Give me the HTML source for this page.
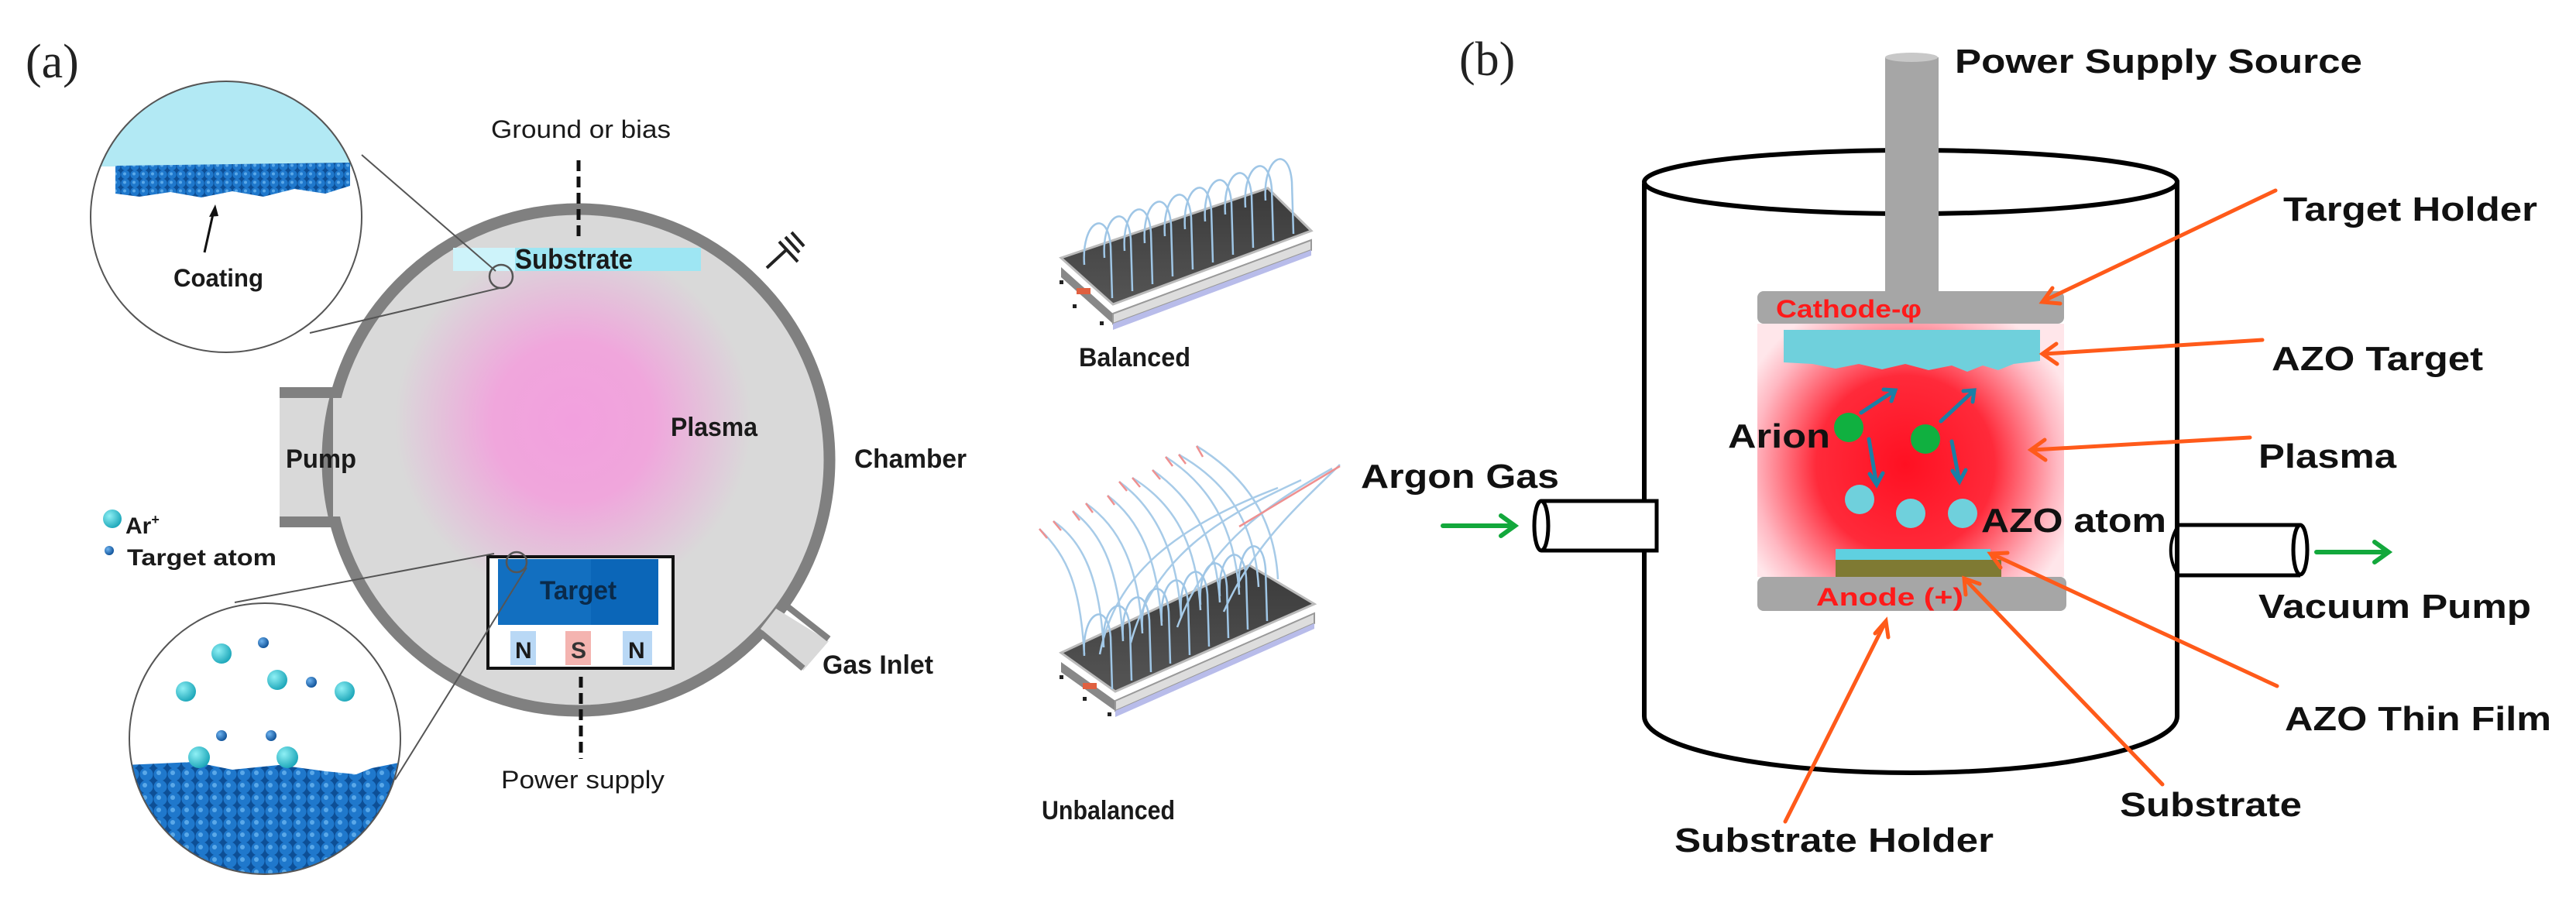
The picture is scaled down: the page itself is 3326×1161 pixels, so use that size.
<!DOCTYPE html>
<html><head><meta charset="utf-8"><style>
html,body{margin:0;padding:0;background:#fff;width:3326px;height:1161px;overflow:hidden}
svg{display:block}
.a{font-family:"Liberation Sans",sans-serif;font-weight:bold;fill:#1a1a1a}
.b{font-family:"Liberation Sans",sans-serif;font-weight:bold;fill:#111}
.s{font-family:"Liberation Serif",serif;fill:#222}
</style></head><body>
<svg width="3326" height="1161" viewBox="0 0 3326 1161" xmlns="http://www.w3.org/2000/svg">
<defs>
<radialGradient id="pink" cx="740" cy="545" r="230" gradientUnits="userSpaceOnUse">
<stop offset="0" stop-color="#f2a0de"/><stop offset="0.45" stop-color="#f0a6dc"/><stop offset="1" stop-color="#d9d9d9"/></radialGradient>
<radialGradient id="red" cx="2460" cy="600" r="230" gradientUnits="userSpaceOnUse">
<stop offset="0" stop-color="#ff1022"/><stop offset="0.5" stop-color="#ff2a3a"/><stop offset="0.85" stop-color="#ffb8c2"/><stop offset="1" stop-color="#ffe6ea"/></radialGradient>
<pattern id="atoms" width="18" height="16" patternUnits="userSpaceOnUse">
<rect width="18" height="16" fill="#0d4f96"/><circle cx="9" cy="8" r="8.5" fill="#1f78cc"/><circle cx="7" cy="6" r="3" fill="#5aa8e8"/></pattern>
<pattern id="atoms2" width="12" height="11" patternUnits="userSpaceOnUse">
<rect width="12" height="11" fill="#0d4f96"/><circle cx="6" cy="5.5" r="5.6" fill="#1f78cc"/><circle cx="5" cy="4.5" r="2" fill="#5aa8e8"/></pattern>
<clipPath id="c1"><circle cx="292" cy="280" r="175"/></clipPath>
<clipPath id="c2"><circle cx="342" cy="954" r="175"/></clipPath>
<radialGradient id="ball" cx="0.35" cy="0.35" r="0.7"><stop offset="0" stop-color="#8ff0f5"/><stop offset="1" stop-color="#1aa5b8"/></radialGradient>
<radialGradient id="sball" cx="0.35" cy="0.35" r="0.7"><stop offset="0" stop-color="#6fb4f0"/><stop offset="1" stop-color="#0d4f96"/></radialGradient>
<linearGradient id="plate" x1="0" y1="0" x2="0" y2="1"><stop offset="0" stop-color="#3a3a3a"/><stop offset="1" stop-color="#555"/></linearGradient>
<path id="loop" d="M0,12 C-4,-45 30,-62 34,-12 L36,55" fill="none" stroke="#9fc6e6" stroke-width="2.5"/>
</defs>

<!-- ===== Panel (a) ===== -->
<text class="s" x="33" y="100" font-size="62">(a)</text>

<!-- chamber -->
<rect x="361" y="507" width="90" height="167" fill="#d9d9d9"/>
<path d="M361,507 H440 M361,674 H440" stroke="#808080" stroke-width="14"/>
<circle cx="747" cy="594" r="324" fill="url(#pink)" stroke="#808080" stroke-width="15"/>
<rect x="430" y="514" width="30" height="153" fill="#d9d9d9"/>
<!-- gas inlet -->
<polygon points="1002,786 1070,828 1037,866 982,812" fill="#d9d9d9"/>
<path d="M1010,778 L1070,825 M982,817 L1037,863" stroke="#808080" stroke-width="8"/>
<!-- ground symbol -->
<path d="M990,346 L1016,322 M1006,312 L1030,338 M1014,306 L1032,326 M1022,300 L1038,318" stroke="#222" stroke-width="4"/>
<!-- substrate -->
<rect x="585" y="320" width="320" height="30" fill="#9ee6f3"/>
<rect x="585" y="320" width="80" height="30" fill="#cdf3fa"/>
<path d="M747,207 V312 M750,874 V980" stroke="#111" stroke-width="5" stroke-dasharray="14,7"/>
<text class="a" x="665" y="347" font-size="36" textLength="152" lengthAdjust="spacingAndGlyphs">Substrate</text>
<text class="a" x="634" y="178" font-size="32" font-weight="normal" style="font-weight:normal" textLength="232" lengthAdjust="spacingAndGlyphs">Ground or bias</text>
<text class="a" x="866" y="563" font-size="34" textLength="112" lengthAdjust="spacingAndGlyphs">Plasma</text>
<text class="a" x="369" y="604" font-size="34" textLength="91" lengthAdjust="spacingAndGlyphs">Pump</text>
<text class="a" x="1103" y="604" font-size="34" textLength="145" lengthAdjust="spacingAndGlyphs">Chamber</text>
<text class="a" x="1062" y="870" font-size="34" textLength="143" lengthAdjust="spacingAndGlyphs">Gas Inlet</text>
<text class="a" x="647" y="1018" font-size="32" style="font-weight:normal" textLength="211" lengthAdjust="spacingAndGlyphs">Power supply</text>

<!-- target assembly -->
<rect x="630" y="719" width="239" height="144" fill="#fff" stroke="#111" stroke-width="4"/>
<rect x="643" y="722" width="207" height="85" fill="#0b66b8"/>
<rect x="643" y="722" width="120" height="85" fill="#1a78c8" opacity="0.5"/>
<text class="a" x="697" y="774" font-size="34" fill="#0a2a4a" style="fill:#0a2a4a" textLength="99" lengthAdjust="spacingAndGlyphs">Target</text>
<rect x="659" y="815" width="33" height="44" fill="#b9d8f5"/>
<rect x="730" y="815" width="33" height="44" fill="#f4b4b0"/>
<rect x="804" y="815" width="38" height="44" fill="#b9d8f5"/>
<text class="a" x="665" y="850" font-size="30">N</text>
<text class="a" x="737" y="850" font-size="30" style="fill:#333">S</text>
<text class="a" x="811" y="850" font-size="30">N</text>

<!-- top inset -->
<circle cx="292" cy="280" r="175" fill="#fff"/>
<g clip-path="url(#c1)">
<rect x="100" y="100" width="400" height="115" fill="#b2e9f4"/>
<path d="M149,214 L452,210 L452,240 L420,250 L380,244 L340,254 L300,247 L260,255 L220,248 L180,254 L149,250 Z" fill="url(#atoms2)"/>
</g>
<circle cx="292" cy="280" r="175" fill="none" stroke="#555" stroke-width="2"/>
<text class="a" x="224" y="370" font-size="32" textLength="116" lengthAdjust="spacingAndGlyphs">Coating</text>
<path d="M264,326 L276,272" stroke="#111" stroke-width="3"/>
<path d="M278,264 L270,280 L282,279 Z" fill="#111"/>
<path d="M467,200 L640,350 M400,430 L645,372" stroke="#555" stroke-width="2" fill="none"/>
<circle cx="647" cy="357" r="15" fill="none" stroke="#555" stroke-width="2.5"/>

<!-- legend -->
<circle cx="145" cy="670" r="12" fill="url(#ball)"/>
<text class="a" x="162" y="689" font-size="30">Ar<tspan font-size="18" dy="-12">+</tspan></text>
<circle cx="141" cy="711" r="6" fill="url(#sball)"/>
<text class="a" x="164" y="730" font-size="30" textLength="193" lengthAdjust="spacingAndGlyphs">Target atom</text>

<!-- bottom inset -->
<path d="M303,778 L638,715 M510,1007 L680,733" stroke="#555" stroke-width="2"/>
<circle cx="667" cy="726" r="13" fill="none" stroke="#555" stroke-width="2.5"/>
<circle cx="342" cy="954" r="175" fill="#fff"/>
<g clip-path="url(#c2)">
<path d="M160,988 L250,984 L300,994 L360,988 L420,996 L460,1000 L480,992 L520,984 L520,1140 L160,1140 Z" fill="url(#atoms)"/>
<g fill="url(#ball)">
<circle cx="286" cy="844" r="13"/><circle cx="240" cy="893" r="13"/><circle cx="358" cy="878" r="13"/><circle cx="445" cy="893" r="13"/><circle cx="257" cy="978" r="14"/><circle cx="371" cy="978" r="14"/></g>
<g fill="url(#sball)">
<circle cx="340" cy="830" r="7"/><circle cx="402" cy="881" r="7"/><circle cx="286" cy="950" r="7"/><circle cx="350" cy="950" r="7"/></g>
</g>
<circle cx="342" cy="954" r="175" fill="none" stroke="#555" stroke-width="2"/>

<!-- balanced magnetron -->
<polygon points="1370,345 1437,405 1437,418 1370,358" fill="#888"/>
<polygon points="1437,405 1693,310 1693,323 1437,418" fill="#ddd" stroke="#999" stroke-width="2"/>
<polygon points="1437,418 1693,323 1693,330 1437,426" fill="#b8bcea"/>
<polygon points="1370,333 1637,243 1693,298 1437,393" fill="url(#plate)" stroke="#bbb" stroke-width="3"/>
<rect x="1368" y="362" width="5" height="5" fill="#222"/><rect x="1385" y="393" width="5" height="5" fill="#222"/><rect x="1420" y="415" width="5" height="5" fill="#222"/>
<rect x="1390" y="372" width="18" height="8" fill="#e06040"/>
<g>
<use href="#loop" x="1400" y="330"/><use href="#loop" x="1426" y="321"/><use href="#loop" x="1452" y="312"/><use href="#loop" x="1478" y="302"/><use href="#loop" x="1504" y="293"/><use href="#loop" x="1530" y="284"/><use href="#loop" x="1556" y="274"/><use href="#loop" x="1582" y="265"/><use href="#loop" x="1608" y="256"/><use href="#loop" x="1634" y="247"/>
</g>
<text class="a" x="1393" y="473" font-size="34" textLength="144" lengthAdjust="spacingAndGlyphs">Balanced</text>

<!-- unbalanced magnetron -->
<polygon points="1370,855 1440,905 1440,918 1370,868" fill="#888"/>
<polygon points="1440,905 1697,792 1697,805 1440,918" fill="#ddd" stroke="#999" stroke-width="2"/>
<polygon points="1440,918 1697,805 1697,812 1440,926" fill="#b8bcea"/>
<polygon points="1370,843 1613,730 1697,780 1440,893" fill="url(#plate)" stroke="#bbb" stroke-width="3"/>
<rect x="1368" y="872" width="5" height="5" fill="#222"/><rect x="1398" y="900" width="5" height="5" fill="#222"/><rect x="1430" y="920" width="5" height="5" fill="#222"/>
<rect x="1398" y="882" width="18" height="8" fill="#e06040"/>
<g fill="none" stroke="#a7cbe8" stroke-width="2.5">
<path d="M1400,845 C1395,760 1380,720 1342,683"/>
<path d="M1425,836 C1420,750 1400,700 1360,673"/>
<path d="M1450,828 C1445,740 1425,690 1385,660"/>
<path d="M1475,818 C1470,730 1445,680 1402,650"/>
<path d="M1500,808 C1495,720 1470,670 1430,640"/>
<path d="M1525,798 C1520,710 1490,655 1445,622"/>
<path d="M1550,788 C1545,700 1515,650 1462,617"/>
<path d="M1575,778 C1570,690 1535,640 1488,607"/>
<path d="M1600,768 C1595,680 1560,625 1505,590"/>
<path d="M1625,758 C1620,670 1580,620 1522,587"/>
<path d="M1650,748 C1645,660 1600,610 1545,576"/>
<path d="M1420,845 C1440,740 1520,680 1650,630"/>
<path d="M1460,830 C1490,720 1570,670 1680,620"/>
<path d="M1520,810 C1560,700 1640,650 1720,605"/>
<path d="M1580,790 C1620,700 1680,650 1730,600"/>
</g>
<g fill="none" stroke="#ef9090" stroke-width="2.5">
<path d="M1342,683 L1352,695 M1360,673 L1370,685 M1385,660 L1394,672 M1402,650 L1411,662 M1430,640 L1439,652 M1445,622 L1455,634 M1462,617 L1472,629 M1488,607 L1498,619 M1505,590 L1514,602 M1522,587 L1531,599 M1545,576 L1553,590"/>
<path d="M1600,680 L1730,602"/>
</g>
<g fill="none" stroke="#9fc6e6" stroke-width="2">
<use href="#loop" x="1400" y="835"/><use href="#loop" x="1425" y="824"/><use href="#loop" x="1450" y="813"/><use href="#loop" x="1475" y="802"/><use href="#loop" x="1500" y="791"/><use href="#loop" x="1525" y="780"/><use href="#loop" x="1550" y="769"/><use href="#loop" x="1575" y="758"/><use href="#loop" x="1600" y="747"/>
</g>
<text class="a" x="1345" y="1058" font-size="34" textLength="172" lengthAdjust="spacingAndGlyphs">Unbalanced</text>

<!-- ===== Panel (b) ===== -->
<text class="s" x="1884" y="97" font-size="62">(b)</text>

<!-- cylinder -->
<ellipse cx="2467" cy="235" rx="344" ry="41" fill="none" stroke="#000" stroke-width="6"/>
<path d="M2123,237 V925 A344,73 0 0 0 2811,925 V233" fill="none" stroke="#000" stroke-width="6"/>
<!-- rod -->
<rect x="2434" y="74" width="69" height="310" fill="#a6a6a6"/>
<ellipse cx="2468" cy="74" rx="34" ry="6" fill="#c8c8c8"/>

<!-- plasma -->
<rect x="2269" y="418" width="396" height="327" fill="url(#red)"/>
<!-- cathode -->
<rect x="2269" y="376" width="396" height="42" rx="8" fill="#a6a6a6"/>
<text class="b" x="2293" y="410" font-size="32" style="fill:#ff1a1a" textLength="188" lengthAdjust="spacingAndGlyphs">Cathode-φ</text>
<!-- AZO target -->
<path d="M2303,426 H2634 V466 L2600,470 L2580,478 L2560,472 L2540,480 L2520,472 L2490,478 L2460,470 L2430,477 L2400,470 L2370,476 L2340,470 L2303,468 Z" fill="#6fd0dc"/>
<!-- substrate / film / anode -->
<rect x="2269" y="745" width="399" height="44" rx="8" fill="#a6a6a6"/>
<rect x="2370" y="709" width="200" height="14" fill="#5fd0e0"/>
<rect x="2370" y="723" width="214" height="22" fill="#7f7a33"/>
<text class="b" x="2345" y="782" font-size="32" style="fill:#ff1a1a" textLength="190" lengthAdjust="spacingAndGlyphs">Anode (+)</text>

<!-- particles -->
<circle cx="2387" cy="552" r="19" fill="#10b040"/>
<circle cx="2486" cy="567" r="19" fill="#10b040"/>
<circle cx="2401" cy="645" r="19" fill="#6fd0dc"/>
<circle cx="2467" cy="663" r="19" fill="#6fd0dc"/>
<circle cx="2534" cy="663" r="19" fill="#6fd0dc"/>
<g stroke="#1b7fa5" stroke-width="5" fill="none" stroke-linecap="round">
<path d="M2403,533 L2447,504 M2432,503 L2447,504 L2442,518"/>
<path d="M2506,544 L2549,504 M2535,505 L2549,504 L2547,519"/>
<path d="M2413,567 L2423,626 M2414,612 L2423,626 L2431,611"/>
<path d="M2520,570 L2530,622 M2521,608 L2530,622 L2538,607"/>
</g>
<text class="b" x="2231" y="578" font-size="44" textLength="132" lengthAdjust="spacingAndGlyphs">Arion</text>
<text class="b" x="2558" y="687" font-size="44" textLength="239" lengthAdjust="spacingAndGlyphs">AZO atom</text>

<!-- tubes -->
<rect x="1985" y="647" width="154" height="64" fill="#fff"/>
<path d="M1990,647 H2139 V711 H1990" fill="none" stroke="#000" stroke-width="5"/>
<ellipse cx="1990" cy="679" rx="9" ry="32" fill="#fff" stroke="#000" stroke-width="5"/>
<rect x="2814" y="678" width="158" height="65" fill="#fff"/>
<path d="M2814,678 H2970 M2814,743 H2970" fill="none" stroke="#000" stroke-width="5"/>
<ellipse cx="2970" cy="710" rx="9" ry="32" fill="#fff" stroke="#000" stroke-width="5"/>
<path d="M2811,681 C2800,700 2800,722 2811,740" fill="none" stroke="#000" stroke-width="4"/>
<g stroke="#13a83c" stroke-width="6" fill="none" stroke-linecap="round">
<path d="M1863,679 H1955 M1938,666 L1956,679 L1938,692"/>
<path d="M2991,713 H3083 M3066,700 L3084,713 L3066,726"/>
</g>

<!-- orange leaders -->
<g stroke="#ff5a1a" stroke-width="5" fill="none" stroke-linecap="round">
<path d="M2938,246 L2640,388 M2650,372 L2637,390 L2660,392"/>
<path d="M2921,439 L2640,457 M2655,444 L2637,457 L2656,470"/>
<path d="M2905,565 L2625,581 M2640,568 L2622,581 L2641,594"/>
<path d="M2940,886 L2573,716 M2583,733 L2570,715 L2592,714"/>
<path d="M2792,1013 L2538,749 M2538,768 L2536,747 L2556,754"/>
<path d="M2305,1061 L2434,804 M2421,818 L2435,802 L2438,823"/>
</g>

<!-- labels b -->
<text class="b" x="2524" y="94" font-size="44" textLength="526" lengthAdjust="spacingAndGlyphs">Power Supply Source</text>
<text class="b" x="2948" y="285" font-size="44" textLength="328" lengthAdjust="spacingAndGlyphs">Target Holder</text>
<text class="b" x="2933" y="478" font-size="44" textLength="273" lengthAdjust="spacingAndGlyphs">AZO Target</text>
<text class="b" x="2916" y="604" font-size="44" textLength="178" lengthAdjust="spacingAndGlyphs">Plasma</text>
<text class="b" x="1757" y="630" font-size="44" textLength="256" lengthAdjust="spacingAndGlyphs">Argon Gas</text>
<text class="b" x="2916" y="798" font-size="44" textLength="352" lengthAdjust="spacingAndGlyphs">Vacuum Pump</text>
<text class="b" x="2950" y="943" font-size="44" textLength="344" lengthAdjust="spacingAndGlyphs">AZO Thin Film</text>
<text class="b" x="2737" y="1054" font-size="44" textLength="235" lengthAdjust="spacingAndGlyphs">Substrate</text>
<text class="b" x="2162" y="1100" font-size="44" textLength="412" lengthAdjust="spacingAndGlyphs">Substrate Holder</text>
</svg>
</body></html>
